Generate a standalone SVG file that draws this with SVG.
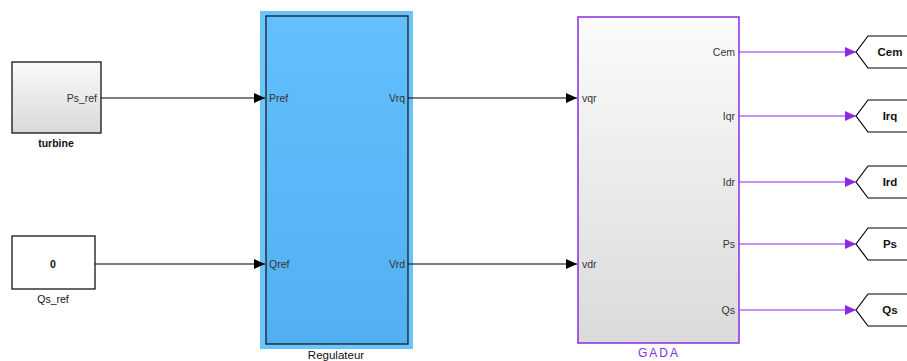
<svg xmlns="http://www.w3.org/2000/svg" width="907" height="361" viewBox="0 0 907 361">
<defs>
<linearGradient id="gGrey" x1="0" y1="0" x2="0" y2="1"><stop offset="0" stop-color="#fafafa"/><stop offset="1" stop-color="#d9d9d9"/></linearGradient>
<linearGradient id="gGada" x1="0" y1="0" x2="0" y2="1"><stop offset="0" stop-color="#fbfbfb"/><stop offset="1" stop-color="#dadada"/></linearGradient>
<linearGradient id="gBlue" x1="0" y1="0" x2="0" y2="1"><stop offset="0" stop-color="#63bffd"/><stop offset="1" stop-color="#52b0f2"/></linearGradient>
<marker id="aBlk" markerWidth="12" markerHeight="12" refX="11" refY="6" orient="auto" markerUnits="userSpaceOnUse"><path d="M0,1 L11,6 L0,11 Z" fill="#000"/></marker>
<marker id="aPur" markerWidth="12" markerHeight="12" refX="11" refY="6" orient="auto" markerUnits="userSpaceOnUse"><path d="M0,1 L11,6 L0,11 Z" fill="#8a2be2"/></marker>
</defs>
<style>
text{font-family:"Liberation Sans",Arial,sans-serif}
.port{font-size:10.5px;fill:#333}
.lbl{font-size:10.5px;font-weight:bold;fill:#111;text-anchor:middle}
.tag{font-size:11.5px;font-weight:bold;fill:#111;text-anchor:middle}
.blk{stroke:#000;stroke-width:1.2;fill:none}
.pur{stroke:#8a2be2;stroke-width:1.2;fill:none}
.goto{fill:#fff;stroke:#000;stroke-width:1.2}
</style>
<rect width="907" height="361" fill="#fff"/>
<g id="turbine">
<rect x="12" y="62" width="89" height="71" fill="url(#gGrey)" stroke="#000" stroke-width="1.2"/>
<text class="port" x="97" y="101.5" text-anchor="end">Ps_ref</text>
<text class="lbl" x="56" y="147">turbine</text>
</g>
<g id="Qs_ref">
<rect x="12" y="236" width="83" height="53" fill="#fff" stroke="#000" stroke-width="1.2"/>
<text class="lbl" x="53" y="267.5">0</text>
<text x="53" y="303" font-size="10.5" fill="#111" text-anchor="middle">Qs_ref</text>
</g>
<g id="Regulateur">
<rect x="260" y="11" width="153" height="338" fill="#6cc4ff"/>
<rect x="266" y="16" width="142" height="328" fill="url(#gBlue)" stroke="#111" stroke-width="1.2"/>
<text class="port" x="269" y="101.5">Pref</text>
<text class="port" x="269" y="267.5">Qref</text>
<text class="port" x="405" y="101.5" text-anchor="end">Vrq</text>
<text class="port" x="405" y="267.5" text-anchor="end">Vrd</text>
<text x="336" y="359" font-size="11.5" fill="#111" text-anchor="middle">Regulateur</text>
</g>
<g id="GADA">
<rect x="578" y="17" width="161" height="326" fill="url(#gGada)" stroke="#8a2be2" stroke-width="1.5"/>
<text class="port" x="582" y="101.5">vqr</text>
<text class="port" x="582" y="267.5">vdr</text>
<text class="port" x="735" y="55.5" text-anchor="end">Cem</text>
<text class="port" x="735" y="119.5" text-anchor="end">Iqr</text>
<text class="port" x="735" y="185.5" text-anchor="end">Idr</text>
<text class="port" x="735" y="247.5" text-anchor="end">Ps</text>
<text class="port" x="735" y="313.5" text-anchor="end">Qs</text>
<text x="659" y="357" font-size="12" letter-spacing="2" fill="#8a2be2" text-anchor="middle">GADA</text>
</g>
<g id="goto_Cem"><polygon class="goto" points="856,52 868,36 910,36 910,68 868,68"/><text class="tag" x="890" y="56">Cem</text></g>
<g id="goto_Irq"><polygon class="goto" points="856,116 868,100 910,100 910,132 868,132"/><text class="tag" x="890" y="120">Irq</text></g>
<g id="goto_Ird"><polygon class="goto" points="856,182 868,166 910,166 910,198 868,198"/><text class="tag" x="890" y="186">Ird</text></g>
<g id="goto_Ps"><polygon class="goto" points="856,244 868,228 910,228 910,260 868,260"/><text class="tag" x="890" y="248">Ps</text></g>
<g id="goto_Qs"><polygon class="goto" points="856,310 868,294 910,294 910,326 868,326"/><text class="tag" x="890" y="314">Qs</text></g>
<g id="connectors">
<path class="blk" d="M101,98 H265" marker-end="url(#aBlk)"/>
<path class="blk" d="M95,264 H265" marker-end="url(#aBlk)"/>
<path class="blk" d="M408,98 H577" marker-end="url(#aBlk)"/>
<path class="blk" d="M408,264 H577" marker-end="url(#aBlk)"/>
<path class="pur" d="M739,52 H856" marker-end="url(#aPur)"/>
<path class="pur" d="M739,116 H856" marker-end="url(#aPur)"/>
<path class="pur" d="M739,182 H856" marker-end="url(#aPur)"/>
<path class="pur" d="M739,244 H856" marker-end="url(#aPur)"/>
<path class="pur" d="M739,310 H856" marker-end="url(#aPur)"/>
</g>
</svg>
